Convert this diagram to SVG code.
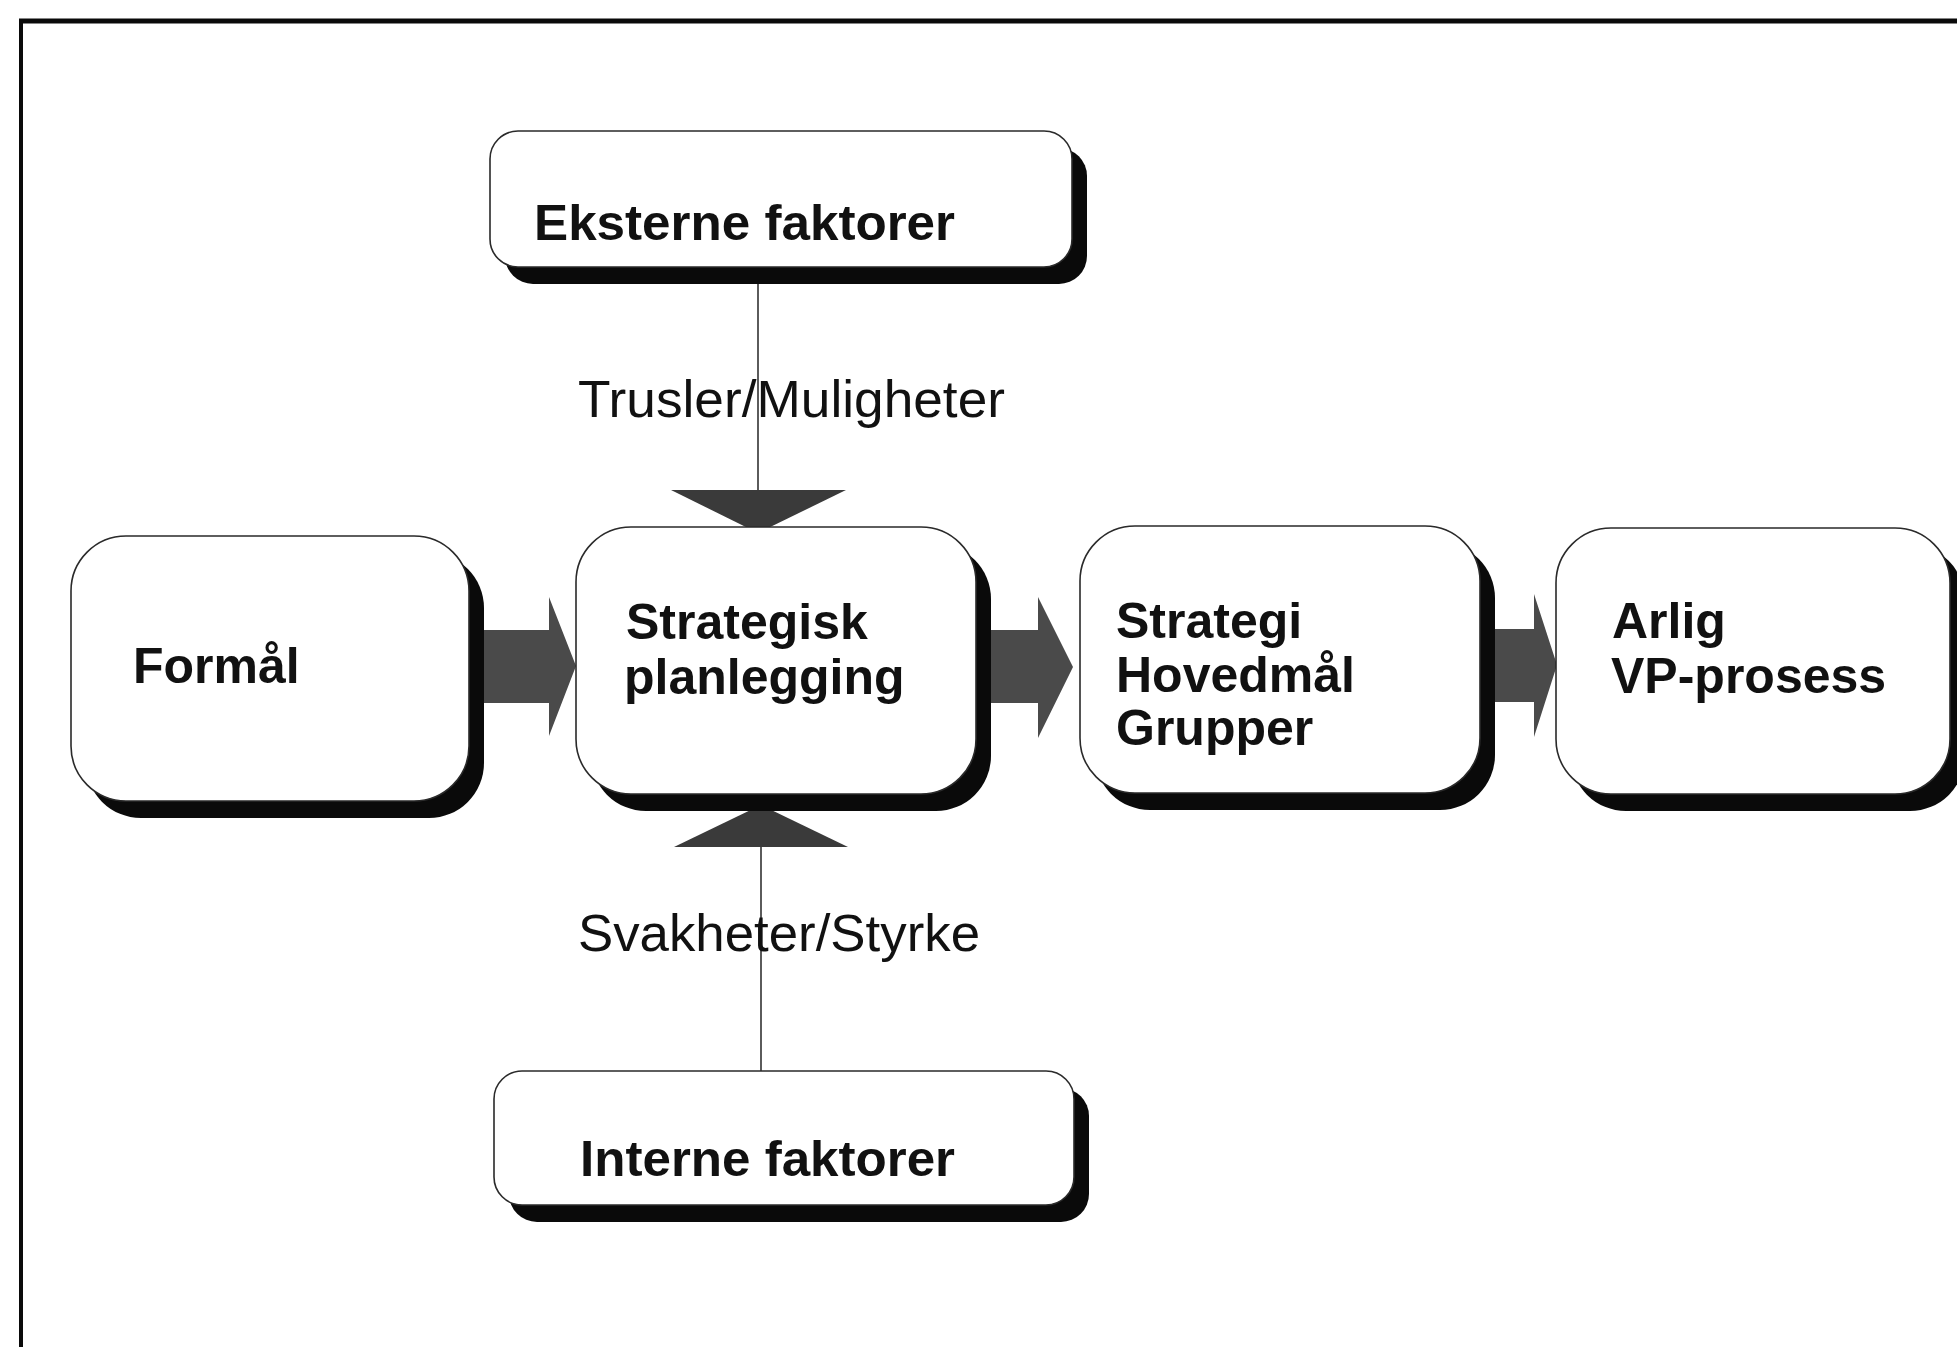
<svg xmlns="http://www.w3.org/2000/svg" width="1957" height="1347" viewBox="0 0 1957 1347">
  <style>
    .shadow { fill: #0a0a0a; }
    .box { fill: #ffffff; stroke: #2a2a2a; stroke-width: 1.6; }
    .bold { font-family: "Liberation Sans", Arial, sans-serif; font-weight: bold; font-size: 50px; fill: #111; }
    .reg { font-family: "Liberation Sans", Arial, sans-serif; font-size: 52px; fill: #111; }
    .barrow { fill: #4a4a4a; }
    .tri { fill: #3a3a3a; }
    .line { stroke: #333; stroke-width: 1.6; fill: none; }
    .frame { stroke: #0a0a0a; fill: none; }
  </style>
  <rect x="0" y="0" width="1957" height="1347" fill="#ffffff"/>
  <g id="frame">
    <line class="frame" x1="19" y1="21" x2="1957" y2="21" stroke-width="5"/>
    <line class="frame" x1="21" y1="19" x2="21" y2="1347" stroke-width="4"/>
  </g>
  <g id="connectors">
    <line class="line" x1="758" y1="268" x2="758" y2="492"/>
    <polygon class="tri" points="671,490 846,490 758,533"/>
    <line class="line" x1="761" y1="846" x2="761" y2="1072"/>
    <polygon class="tri" points="674,847 848,847 761,805"/>
    <polygon class="barrow" points="484,630 549,630 549,597 576,666 549,736 549,703 484,703"/>
    <polygon class="barrow" points="990,630 1038,630 1038,597 1073,667 1038,738 1038,703 990,703"/>
    <polygon class="barrow" points="1495,629 1534,629 1534,594 1557,665 1534,737 1534,702 1495,702"/>
  </g>
  <g id="eksterne">
    <rect class="shadow" x="505" y="148" width="582" height="136" rx="28"/>
    <rect class="box" x="490" y="131" width="582" height="136" rx="28"/>
    <text class="bold" x="534" y="240" textLength="421" lengthAdjust="spacingAndGlyphs">Eksterne faktorer</text>
  </g>
  <g id="trusler-label">
    <text class="reg" x="578" y="417" textLength="427" lengthAdjust="spacingAndGlyphs">Trusler/Muligheter</text>
  </g>
  <g id="formal">
    <rect class="shadow" x="86" y="553" width="398" height="265" rx="55"/>
    <rect class="box" x="71" y="536" width="398" height="265" rx="55"/>
    <text class="bold" x="133" y="683">Formål</text>
  </g>
  <g id="strategisk">
    <rect class="shadow" x="591" y="544" width="400" height="267" rx="55"/>
    <rect class="box" x="576" y="527" width="400" height="267" rx="55"/>
    <text class="bold" x="626" y="639">Strategisk</text>
    <text class="bold" x="624" y="694">planlegging</text>
  </g>
  <g id="strategi">
    <rect class="shadow" x="1095" y="543" width="400" height="267" rx="55"/>
    <rect class="box" x="1080" y="526" width="400" height="267" rx="55"/>
    <text class="bold" x="1116" y="638">Strategi</text>
    <text class="bold" x="1116" y="692">Hovedmål</text>
    <text class="bold" x="1116" y="745">Grupper</text>
  </g>
  <g id="arlig">
    <rect class="shadow" x="1571" y="545" width="394" height="266" rx="55"/>
    <rect class="box" x="1556" y="528" width="394" height="266" rx="55"/>
    <text class="bold" x="1612" y="638">Arlig</text>
    <text class="bold" x="1611" y="693">VP-prosess</text>
  </g>
  <g id="svakheter-label">
    <text class="reg" x="578" y="951" textLength="402" lengthAdjust="spacingAndGlyphs">Svakheter/Styrke</text>
  </g>
  <g id="interne">
    <rect class="shadow" x="509" y="1088" width="580" height="134" rx="28"/>
    <rect class="box" x="494" y="1071" width="580" height="134" rx="28"/>
    <text class="bold" x="580" y="1176" textLength="375" lengthAdjust="spacingAndGlyphs">Interne faktorer</text>
  </g>
</svg>
